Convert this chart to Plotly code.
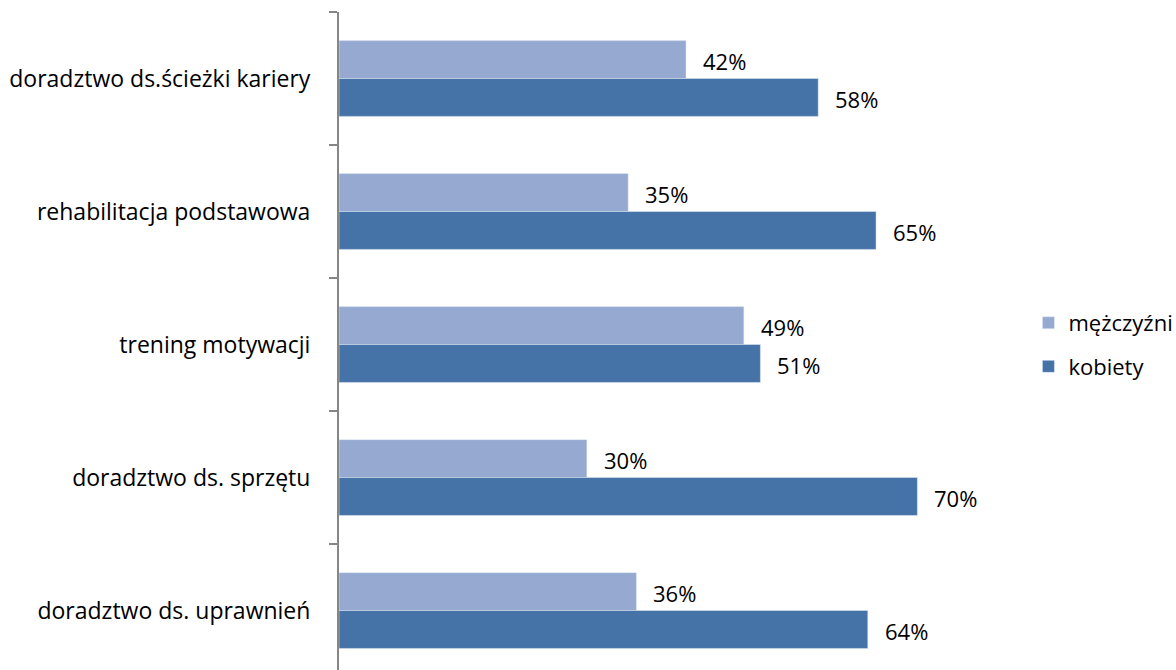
import plotly.graph_objects as go

categories = [
    "doradztwo ds.ścieżki kariery",
    "rehabilitacja podstawowa",
    "trening motywacji",
    "doradztwo ds. sprzętu",
    "doradztwo ds. uprawnień",
]
men = [42, 35, 49, 30, 36]
women = [58, 65, 51, 70, 64]

LIGHT = "#95A9D1"
DARK = "#4572A7"
FONT = "Open Sans"
SIZE = 23

fig = go.Figure()
fig.add_trace(go.Bar(
    y=categories, x=men, orientation="h", name="mężczyźni",
    marker=dict(color=LIGHT), legendgroup="m",
))
fig.add_trace(go.Bar(
    y=categories, x=women, orientation="h", name="kobiety",
    marker=dict(color=DARK), legendgroup="k",
))

# value labels to the right of each bar, shifted onto its half of the group
bar_shift = 19
for cat, m, w in zip(categories, men, women):
    for val, dy in ((m, bar_shift), (w, -bar_shift)):
        fig.add_annotation(
            x=val, y=cat, text=f"{val}%", showarrow=False,
            xanchor="left", yanchor="middle", xshift=15, yshift=dy - 1,
            font=dict(family=FONT, size=SIZE - 1, color="#000000"),
        )

fig.update_layout(
    width=1176, height=670,
    margin=dict(l=339, r=176, t=12, b=0, autoexpand=False),
    paper_bgcolor="white", plot_bgcolor="white",
    barmode="group", bargap=0.43, bargroupgap=0,
    font=dict(family=FONT, size=SIZE, color="#000000"),
    legend=dict(
        x=1.043, y=0.494, xanchor="left", yanchor="middle",
        traceorder="grouped", tracegroupgap=12,
        font=dict(family=FONT, size=SIZE - 1, color="#000000"),
        itemwidth=30,
    ),
    showlegend=True,
)
fig.update_xaxes(range=[0, 80], visible=False, showgrid=False, zeroline=False)
fig.update_yaxes(
    categoryorder="array", categoryarray=categories,
    range=[4.447, -0.5],
    showline=True, linecolor="#868686", linewidth=2,
    ticks="outside", tickson="boundaries", ticklen=8, tickcolor="#868686", tickwidth=2,
    ticklabelstandoff=22, showgrid=False, zeroline=False,
    tickfont=dict(family=FONT, size=SIZE, color="#000000"),
)

fig.write_html("out.html")
